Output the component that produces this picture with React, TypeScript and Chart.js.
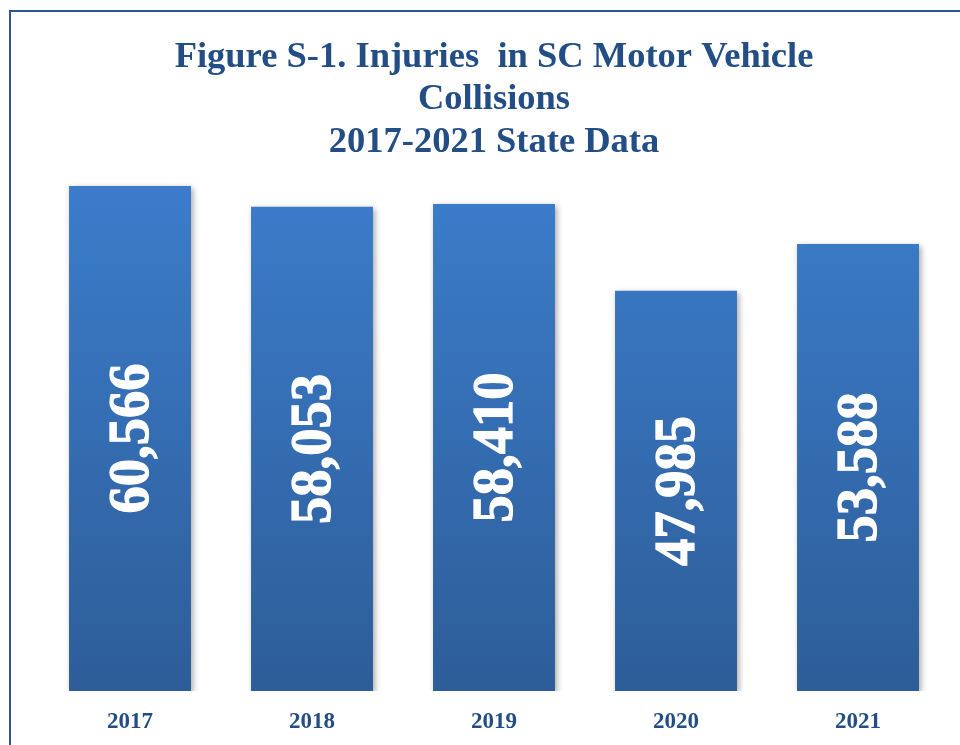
import React, { useEffect, useRef } from "react";
import { Chart, registerables } from "chart.js";

Chart.register(...registerables);

const years = ["2017", "2018", "2019", "2020", "2021"];
const injuries = [60566, 58053, 58410, 47985, 53588];
const titleLines = [
  "Figure S-1. Injuries  in SC Motor Vehicle",
  "Collisions",
  "2017-2021 State Data",
];

const SERIF = "'Liberation Serif', 'Times New Roman', serif";
const NAVY = "#234e85";

export default function App() {
  const ref = useRef<HTMLCanvasElement | null>(null);

  useEffect(() => {
    document.body.style.margin = "0";
    const canvas = ref.current;
    if (!canvas) return;

    const framePlugin = {
      id: "frame",
      beforeDraw(chart: any) {
        const ctx = chart.ctx;
        ctx.save();
        ctx.fillStyle = "#ffffff";
        ctx.fillRect(0, 0, chart.width, chart.height);
        ctx.fillStyle = "#2f5597";
        ctx.fillRect(9, 10, 2, chart.height - 10);
        ctx.fillRect(9, 10, chart.width - 9, 2);
        ctx.restore();
      },
    };

    const shadowPlugin = {
      id: "barShadow",
      beforeDatasetsDraw(chart: any) {
        const ctx = chart.ctx;
        ctx.save();
        ctx.shadowColor = "rgba(0,0,0,0.35)";
        ctx.shadowBlur = 6;
        ctx.shadowOffsetX = 2;
        ctx.shadowOffsetY = 2;
      },
      afterDatasetsDraw(chart: any) {
        chart.ctx.restore();
      },
    };

    const labelPlugin = {
      id: "valueLabels",
      afterDraw(chart: any) {
        const ctx = chart.ctx;
        const meta = chart.getDatasetMeta(0);
        ctx.save();
        ctx.fillStyle = "#ffffff";
        ctx.strokeStyle = "#ffffff";
        ctx.lineWidth = 1.2;
        ctx.font = `bold 58px ${SERIF}`;
        ctx.textAlign = "center";
        ctx.textBaseline = "middle";
        meta.data.forEach((bar: any, i: number) => {
          const cx = bar.x;
          const cy = (bar.y + bar.base) / 2;
          const txt = injuries[i].toLocaleString("en-US");
          ctx.save();
          ctx.translate(cx + 3, cy);
          ctx.rotate(-Math.PI / 2);
          ctx.scale(0.94, 1);
          ctx.fillText(txt, 0, 0);
          ctx.strokeText(txt, 0, 0);
          ctx.restore();
        });
        ctx.restore();
      },
    };

    const chart = new Chart(canvas, {
      type: "bar",
      data: {
        labels: years,
        datasets: [
          {
            data: injuries,
            backgroundColor: (c: any) => {
              const area = c.chart.chartArea;
              if (!area) return "#3472b8";
              const g = c.chart.ctx.createLinearGradient(0, area.top, 0, area.bottom);
              g.addColorStop(0, "#3c7dcc");
              g.addColorStop(1, "#2d5d98");
              return g;
            },
            borderWidth: 0,
            barPercentage: 0.67,
            categoryPercentage: 1,
          },
        ],
      },
      options: {
        animation: false,
        responsive: false,
        maintainAspectRatio: false,
        layout: { padding: { left: 39, right: 11, top: 0, bottom: 0 } },
        plugins: {
          legend: { display: false },
          tooltip: { enabled: false },
          title: {
            display: true,
            text: titleLines,
            color: NAVY,
            font: { family: SERIF, size: 36.5, weight: "bold", lineHeight: 1.164 },
            padding: { top: 36, bottom: 10.5 },
          },
        },
        scales: {
          x: {
            grid: { display: false },
            border: { display: false },
            afterFit: (scale: any) => {
              scale.height = 54;
            },
            ticks: {
              color: NAVY,
              padding: 9,
              font: { family: SERIF, size: 23, weight: "bold" },
            },
          },
          y: {
            display: false,
            min: 0,
            max: 62000,
          },
        },
      },
      plugins: [framePlugin, shadowPlugin, labelPlugin],
    } as any);

    return () => chart.destroy();
  }, []);

  return (
    <div style={{ width: 960, height: 745 }}>
      <canvas ref={ref} width={960} height={745} style={{ display: "block" }} />
    </div>
  );
}
